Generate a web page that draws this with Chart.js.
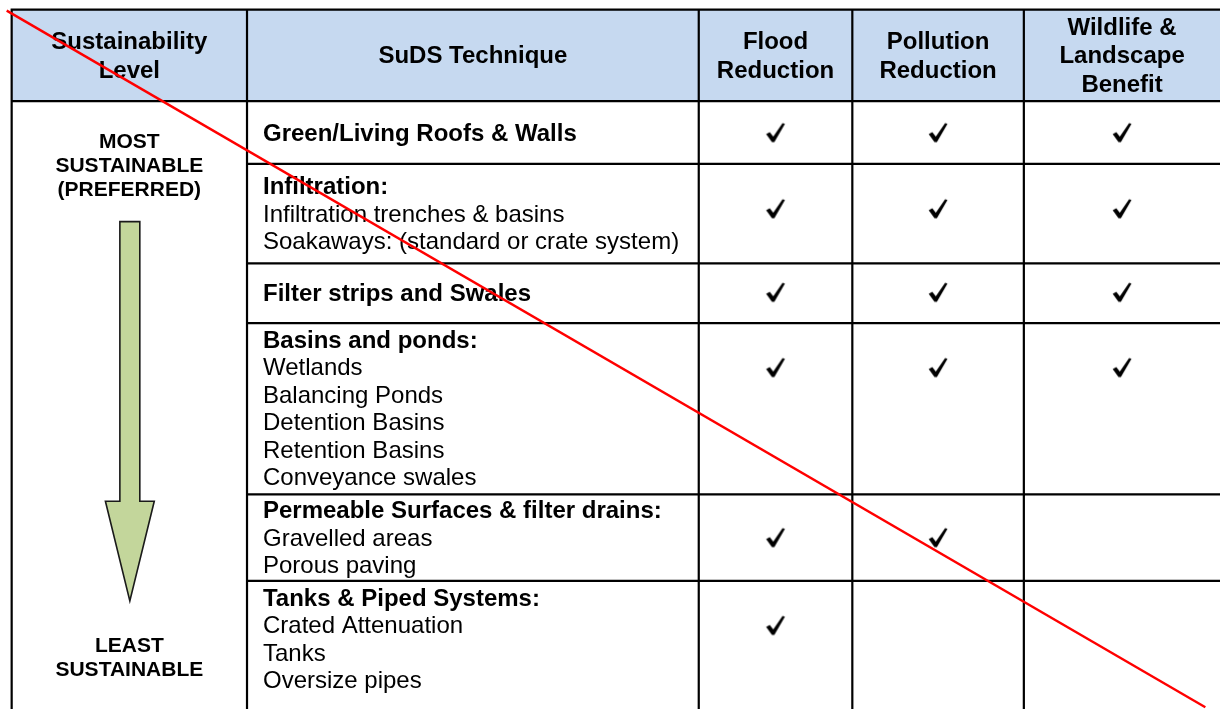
<!DOCTYPE html>
<html>
<head>
<meta charset="utf-8">
<script src="https://cdn.jsdelivr.net/npm/chart.js@4/dist/chart.umd.min.js"></script>
<style>
  html, body { margin: 0; padding: 0; background: #ffffff; }
  #wrap { width: 1220px; height: 709px; }
</style>
</head>
<body>
<div id="wrap"><canvas id="c" width="1220" height="709"></canvas></div>
<script>
// ---------- DATA ----------
const headerLabels = [
  ['Sustainability', 'Level'],
  ['SuDS Technique'],
  ['Flood', 'Reduction'],
  ['Pollution', 'Reduction'],
  ['Wildlife &', 'Landscape', 'Benefit']
];
const levelTop = ['MOST', 'SUSTAINABLE', '(PREFERRED)'];
const levelBottom = ['LEAST', 'SUSTAINABLE'];
const techniqueTitles = [
  'Green/Living Roofs & Walls',
  'Infiltration:',
  'Filter strips and Swales',
  'Basins and ponds:',
  'Permeable Surfaces & filter drains:',
  'Tanks & Piped Systems:'
];
const techniqueItems = [
  [],
  ['Infiltration trenches & basins', 'Soakaways: (standard or crate system)'],
  [],
  ['Wetlands', 'Balancing Ponds', 'Detention Basins', 'Retention Basins', 'Conveyance swales'],
  ['Gravelled areas', 'Porous paving'],
  ['Crated Attenuation', 'Tanks', 'Oversize pipes']
];
const floodReduction     = [1, 1, 1, 1, 1, 1];
const pollutionReduction = [1, 1, 1, 1, 1, 0];
const wildlifeBenefit    = [1, 1, 1, 1, 0, 0];
// red strike-through line, end points (chart units)
const strikeX = [5, 1207];
const strikeY = [9, 709];

// ---------- LAYOUT (chart units = pixels of the 1220x709 frame) ----------
const layout = {
  colEdges: [10, 246, 699, 853, 1025, 1222],
  rowEdges: [8, 100, 163, 263, 323, 495, 582, 699],
  tableBottom: 712,
  lineH: 27.6,
  headLineH: 28.6,
  textLeft: 262,
  checkNudge: [0, -5, -1, 0, 0, 0]
};
const FONT = '"Liberation Sans", Arial, Helvetica, sans-serif';
const STRIKE_W = 2.4;
const EDGE = STRIKE_W / 2; // Chart.js keeps this overflow margin round the plot area

function rowLines(r) { return 1 + techniqueItems[r].length; }
function rowMid(r) { return (layout.rowEdges[r + 1] + layout.rowEdges[r + 2]) / 2; }
function lineBaseline(r, i) {
  const n = rowLines(r);
  return rowMid(r) + 8 + (i - (n - 1) / 2) * layout.lineH;
}
function checkY(r) {
  const n = rowLines(r);
  const y = n > 3 ? lineBaseline(r, 1) - 8 : rowMid(r);
  return y + layout.checkNudge[r];
}
function colMid(c) { return (layout.colEdges[c] + layout.colEdges[c + 1]) / 2; }
function checkPoints(values, col) {
  const pts = [];
  values.forEach((v, r) => { if (v) pts.push({ x: colMid(col), y: checkY(r) }); });
  return pts;
}

// check mark glyph as point style
const checkImg = document.createElement('canvas');
checkImg.width = 24; checkImg.height = 24;
(function () {
  const g = checkImg.getContext('2d');
  g.fillStyle = '#000';
  g.beginPath();
  g.moveTo(2.6, 13.4);
  g.lineTo(6.2, 11.4);
  g.lineTo(9.7, 16.0);
  g.lineTo(19.0, 2.6);
  g.lineTo(21.4, 3.2);
  g.lineTo(10.8, 21.4);
  g.lineTo(8.4, 21.4);
  g.closePath();
  g.fill();
})();

const tablePlugin = {
  id: 'tablePlugin',
  beforeDatasetsDraw(chart) {
    const ctx = chart.ctx;
    const xs = chart.scales.x, ys = chart.scales.y;
    const X = v => xs.getPixelForValue(v);
    const Y = v => ys.getPixelForValue(v);
    const L = layout;
    ctx.save();
    // header background
    ctx.fillStyle = '#c6d9f0';
    ctx.fillRect(X(L.colEdges[0]), Y(L.rowEdges[0]), X(L.colEdges[5]) - X(L.colEdges[0]), Y(L.rowEdges[1]) - Y(L.rowEdges[0]));

    // grid
    ctx.strokeStyle = '#000';
    ctx.lineWidth = 2.2;
    ctx.beginPath();
    [L.rowEdges[0], L.rowEdges[1]].forEach(y => { ctx.moveTo(X(L.colEdges[0] - 1), Y(y)); ctx.lineTo(X(L.colEdges[5]), Y(y)); });
    for (let r = 2; r < L.rowEdges.length - 1; r++) {
      ctx.moveTo(X(L.colEdges[1]), Y(L.rowEdges[r])); ctx.lineTo(X(L.colEdges[5]), Y(L.rowEdges[r]));
    }
    for (let c = 0; c < L.colEdges.length - 1; c++) {
      ctx.moveTo(X(L.colEdges[c]), Y(L.rowEdges[0] - 1)); ctx.lineTo(X(L.colEdges[c]), Y(L.tableBottom));
    }
    ctx.stroke();

    // header text
    ctx.fillStyle = '#000';
    ctx.textAlign = 'center';
    ctx.textBaseline = 'alphabetic';
    ctx.font = 'bold 24px ' + FONT;
    const hMid = (L.rowEdges[0] + L.rowEdges[1]) / 2;
    headerLabels.forEach((lines, c) => {
      lines.forEach((t, i) => {
        const y = hMid + 8 + (i - (lines.length - 1) / 2) * L.headLineH;
        ctx.fillText(t, X(colMid(c)), Y(y));
      });
    });

    // level column text
    ctx.font = 'bold 21px ' + FONT;
    levelTop.forEach((t, i) => ctx.fillText(t, X(colMid(0)), Y(147 + i * 24)));
    levelBottom.forEach((t, i) => ctx.fillText(t, X(colMid(0)), Y(653 + i * 25)));

    // arrow
    const ax = colMid(0) + 0.5;
    ctx.fillStyle = '#c3d69b';
    ctx.strokeStyle = '#1a1a1a';
    ctx.lineWidth = 1.6;
    ctx.lineJoin = 'miter';
    ctx.beginPath();
    ctx.moveTo(X(ax - 10), Y(221));
    ctx.lineTo(X(ax + 10), Y(221));
    ctx.lineTo(X(ax + 10), Y(502));
    ctx.lineTo(X(ax + 24.5), Y(502));
    ctx.lineTo(X(ax), Y(602));
    ctx.lineTo(X(ax - 24.5), Y(502));
    ctx.lineTo(X(ax - 10), Y(502));
    ctx.closePath();
    ctx.fill();
    ctx.stroke();

    // technique text
    ctx.fillStyle = '#000';
    ctx.textAlign = 'left';
    techniqueTitles.forEach((title, r) => {
      ctx.font = 'bold 24px ' + FONT;
      ctx.fillText(title, X(L.textLeft), Y(lineBaseline(r, 0)));
      ctx.font = '24px ' + FONT;
      techniqueItems[r].forEach((t, i) => ctx.fillText(t, X(L.textLeft), Y(lineBaseline(r, i + 1))));
    });
    ctx.restore();
  }
};

const checkStyle = { pointStyle: checkImg, pointRadius: 0.5, pointBorderWidth: 0, pointHoverRadius: 0.5, order: 1 };

new Chart(document.getElementById('c'), {
  type: 'scatter',
  data: {
    datasets: [
      {
        type: 'line',
        label: 'strike',
        data: strikeX.map((x, i) => ({ x: x, y: strikeY[i] })),
        borderColor: '#ff0000',
        borderWidth: STRIKE_W,
        pointRadius: 0,
        pointBorderWidth: 0,
        fill: false,
        clip: false,
        order: 0
      },
      Object.assign({ label: 'Flood Reduction', data: checkPoints(floodReduction, 2) }, checkStyle),
      Object.assign({ label: 'Pollution Reduction', data: checkPoints(pollutionReduction, 3) }, checkStyle),
      Object.assign({ label: 'Wildlife & Landscape Benefit', data: checkPoints(wildlifeBenefit, 4) }, checkStyle)
    ]
  },
  options: {
    responsive: false,
    devicePixelRatio: 1,
    animation: false,
    events: [],
    layout: { padding: 0 },
    plugins: { legend: { display: false }, tooltip: { enabled: false }, title: { display: false } },
    scales: {
      x: { type: 'linear', min: -EDGE, max: 1220 + EDGE, display: false },
      y: { type: 'linear', min: -EDGE, max: 709 + EDGE, reverse: true, display: false }
    }
  },
  plugins: [tablePlugin]
});
</script>
</body>
</html>
